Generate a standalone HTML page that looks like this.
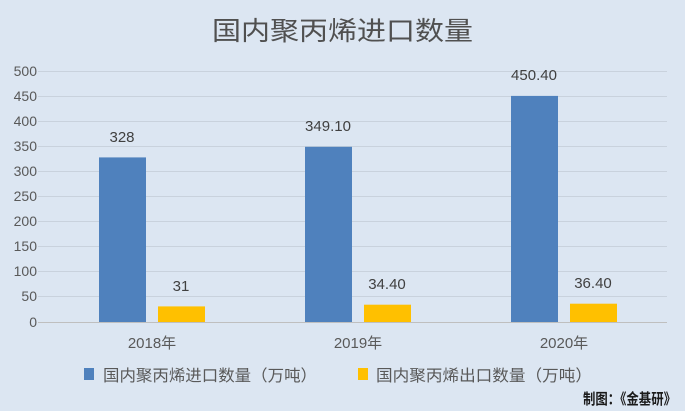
<!DOCTYPE html>
<html><head><meta charset="utf-8"><style>
html,body{margin:0;padding:0;background:#dce6f2;}
svg{display:block;font-family:"Liberation Sans","Noto Sans CJK SC",sans-serif;}
</style></head><body>
<svg width="685" height="411" viewBox="0 0 685 411">
<rect width="685" height="411" fill="#dce6f2"/>
<text x="212" y="40" font-size="26" fill="#505050" textLength="261" lengthAdjust="spacingAndGlyphs">国内聚丙烯进口数量</text>
<g stroke="#c9d2dd" stroke-width="1">
<line x1="38" x2="667" y1="71.5" y2="71.5"/>
<line x1="38" x2="667" y1="96.5" y2="96.5"/>
<line x1="38" x2="667" y1="121.5" y2="121.5"/>
<line x1="38" x2="667" y1="146.5" y2="146.5"/>
<line x1="38" x2="667" y1="171.5" y2="171.5"/>
<line x1="38" x2="667" y1="196.5" y2="196.5"/>
<line x1="38" x2="667" y1="221.5" y2="221.5"/>
<line x1="38" x2="667" y1="246.5" y2="246.5"/>
<line x1="38" x2="667" y1="271.5" y2="271.5"/>
<line x1="38" x2="667" y1="296.5" y2="296.5"/>
</g>
<line x1="38" x2="667" y1="322.5" y2="322.5" stroke="#bfbfbf"/>
<g font-size="14" fill="#595959" text-anchor="end">
<text x="37" y="76">500</text><text x="37" y="101">450</text><text x="37" y="126">400</text>
<text x="37" y="151">350</text><text x="37" y="176">300</text><text x="37" y="201">250</text>
<text x="37" y="226">200</text><text x="37" y="251">150</text><text x="37" y="276">100</text>
<text x="37" y="301">50</text><text x="37" y="327">0</text>
</g>
<g fill="#4f81bd">
<rect x="99" y="157.4" width="47" height="164.6"/>
<rect x="305" y="146.8" width="47" height="175.2"/>
<rect x="511" y="95.9" width="47" height="226.1"/>
</g>
<g fill="#ffc000">
<rect x="158" y="306.4" width="47" height="15.6"/>
<rect x="364" y="304.7" width="47" height="17.3"/>
<rect x="570" y="303.7" width="47" height="18.3"/>
</g>
<g font-size="15" fill="#404040" text-anchor="middle">
<text x="122" y="142">328</text>
<text x="328" y="131">349.10</text>
<text x="534" y="80">450.40</text>
<text x="181" y="291">31</text>
<text x="387" y="289">34.40</text>
<text x="593" y="288">36.40</text>
</g>
<g font-size="15" fill="#595959" text-anchor="middle">
<text x="152" y="348">2018年</text>
<text x="358" y="348">2019年</text>
<text x="564" y="348">2020年</text>
</g>
<rect x="84" y="368" width="10" height="12" fill="#4f81bd"/>
<text x="103" y="381" font-size="16" fill="#595959" textLength="214" lengthAdjust="spacingAndGlyphs">国内聚丙烯进口数量（万吨）</text>
<rect x="358" y="368" width="10" height="12" fill="#ffc000"/>
<text x="376" y="381" font-size="16" fill="#595959" textLength="216" lengthAdjust="spacingAndGlyphs">国内聚丙烯出口数量（万吨）</text>
<text x="583" y="404" font-size="15" fill="#1a1a1a" font-weight="bold" textLength="93" lengthAdjust="spacingAndGlyphs">制图：《金基研》</text>
</svg>
</body></html>
